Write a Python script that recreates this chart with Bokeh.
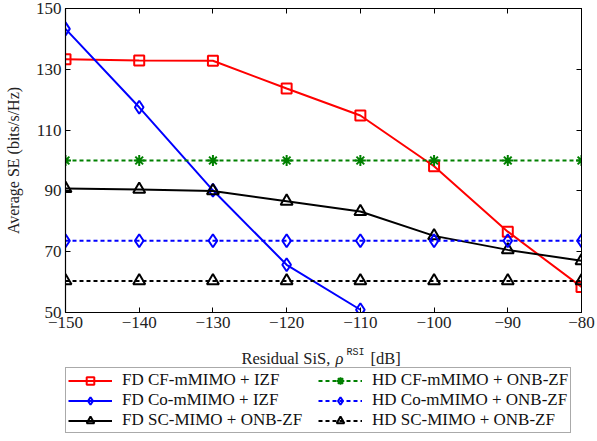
from bokeh.plotting import figure
from bokeh.layouts import column
from bokeh.models import FixedTicker, LinearAxis, Legend, LegendItem, Label, Range1d
from bokeh.embed import file_html
from bokeh.resources import INLINE

# ---- data ----
rsi = [-150, -140, -130, -120, -110, -100, -90, -80]
rsi_co = [-150, -140, -130, -120, -110]
fd_cf = [133.3, 132.9, 132.8, 123.7, 114.8, 98.1, 76.6, 58.4]
fd_co = [143.3, 117.5, 90.2, 65.7, 50.9]
fd_sc = [90.8, 90.5, 90.0, 86.6, 83.2, 75.2, 70.6, 67.0]
hd_cf = [100.0, 100.0, 100.0, 100.0, 100.0, 100.0, 100.0, 100.0]
hd_co = [73.6, 73.6, 73.6, 73.6, 73.6, 73.6, 73.6, 73.6]
hd_sc = [60.4, 60.4, 60.4, 60.4, 60.4, 60.4, 60.4, 60.4]

x_ticks = [-150, -140, -130, -120, -110, -100, -90, -80]
x_tick_labels = ["\u2212150", "\u2212140", "\u2212130", "\u2212120", "\u2212110", "\u2212100", "\u221290", "\u221280"]
y_ticks = [50, 70, 90, 110, 130, 150]

labels = ["FD CF-mMIMO + IZF", "FD Co-mMIMO + IZF", "FD SC-MIMO + ONB-ZF",
          "HD CF-mMIMO + ONB-ZF", "HD Co-mMIMO + ONB-ZF", "HD SC-MIMO + ONB-ZF"]

SERIF = "Liberation Serif"
DOT = "4 3"
GREEN = "#008000"
styles = [("#ff0000", "square", 10, "solid"),
          ("#0000ff", "diamond", 13, "solid"),
          ("black", "triangle", 12, "solid"),
          (GREEN, "asterisk", 11, DOT),
          ("#0000ff", "diamond", 13, DOT),
          ("black", "triangle", 12, DOT)]
data = [(rsi, fd_cf), (rsi_co, fd_co), (rsi, fd_sc), (rsi, hd_cf), (rsi, hd_co), (rsi, hd_sc)]

# ---- main plot ----
p = figure(width=597, height=340, output_backend="svg", toolbar_location=None,
           x_range=Range1d(-150, -80), y_range=Range1d(50, 150),
           min_border_left=65, min_border_right=16, min_border_top=8, min_border_bottom=28,
           y_axis_label="Average SE (bits/s/Hz)")
p.grid.visible = False
p.outline_line_color = "black"
p.background_fill_color = "white"
p.border_fill_color = "white"

for ax in (p.xaxis[0], p.yaxis[0]):
    ax.major_tick_in = 5
    ax.major_tick_out = 0
    ax.minor_tick_line_color = None
    ax.axis_line_color = "black"
    ax.axis_line_width = 1.2
    ax.major_label_text_font = SERIF
    ax.major_label_text_font_size = "17px"
    ax.major_label_text_color = "#222222"
    ax.axis_label_text_font = SERIF
    ax.axis_label_text_font_size = "16px"
    ax.axis_label_text_font_style = "normal"
    ax.axis_label_text_color = "#222222"

p.xaxis.ticker = FixedTicker(ticks=x_ticks)
p.xaxis.major_label_overrides = {t: l for t, l in zip(x_ticks, x_tick_labels)}
p.xaxis.major_label_standoff = 4
p.yaxis.ticker = FixedTicker(ticks=y_ticks)
p.yaxis.major_label_standoff = 4
p.yaxis.axis_label_standoff = 11

top_ax = LinearAxis(ticker=FixedTicker(ticks=x_ticks), major_tick_in=5, major_tick_out=0,
                    minor_tick_line_color=None, major_label_text_font_size="1px",
                    major_label_text_color=None, major_label_standoff=0, axis_line_color="black")
right_ax = LinearAxis(ticker=FixedTicker(ticks=y_ticks), major_tick_in=5, major_tick_out=0,
                      minor_tick_line_color=None, major_label_text_font_size="1px",
                      major_label_text_color=None, major_label_standoff=0, axis_line_color="black")
p.add_layout(top_ax, "above")
p.add_layout(right_ax, "right")

for (x, y), (color, marker, size, dash) in zip(data, styles):
    p.line(x, y, line_color=color, line_width=2, line_dash=dash)
    p.scatter(x, y, marker=marker, size=size, line_color=color, fill_color=None, line_width=2)

# ---- legend + x label panel (frame aligned with the main plot: x 65..581) ----
p2 = figure(width=597, height=101, output_backend="svg", toolbar_location=None,
            x_range=Range1d(0, 1), y_range=Range1d(0, 1), min_border=0,
            x_axis_location=None, y_axis_location=None)
p2.grid.visible = False
p2.outline_line_color = None
p2.background_fill_color = "white"
p2.border_fill_color = "white"

items = []
for lab, (x, y), (color, marker, size, dash) in zip(labels, data, styles):
    # same series, outside this panel's visible range: only used for legend samples
    l = p2.line(x, y, line_color=color, line_width=2, line_dash=dash)
    m = p2.scatter(x, y, marker=marker, size=size, line_color=color, fill_color=None, line_width=2)
    items.append(LegendItem(label=lab, renderers=[l, m]))

legend = Legend(items=items, location=(0, 8), ncols=2, orientation="vertical",
                label_text_font=SERIF, label_text_font_size="17px", label_text_color="#111111",
                label_text_line_height=0.95,
                glyph_width=44, glyph_height=19, label_height=19, label_standoff=10,
                label_width=196, spacing=0, padding=2, margin=0,
                border_line_color="#555555", border_line_width=1.5,
                background_fill_color="white", background_fill_alpha=1)
p2.add_layout(legend, "center")

lab_kw = dict(x_units="screen", y_units="screen", text_color="#222222", text_baseline="alphabetic")
p2.add_layout(Label(x=269, y=83, text="Residual SiS, ", text_align="right", text_font=SERIF,
                    text_font_size="16.5px", **lab_kw))
p2.add_layout(Label(x=270, y=83, text="\u03c1", text_align="left", text_font=SERIF,
                    text_font_size="16.5px", text_font_style="italic", **lab_kw))
p2.add_layout(Label(x=281, y=89, text="RSI", text_align="left", text_font="Liberation Mono",
                    text_font_size="10px", **lab_kw))
p2.add_layout(Label(x=305, y=83, text="[dB]", text_align="left", text_font=SERIF,
                    text_font_size="16.5px", **lab_kw))

layout = column(p, p2, spacing=0)
open("out.html", "w").write(file_html(layout, INLINE))
